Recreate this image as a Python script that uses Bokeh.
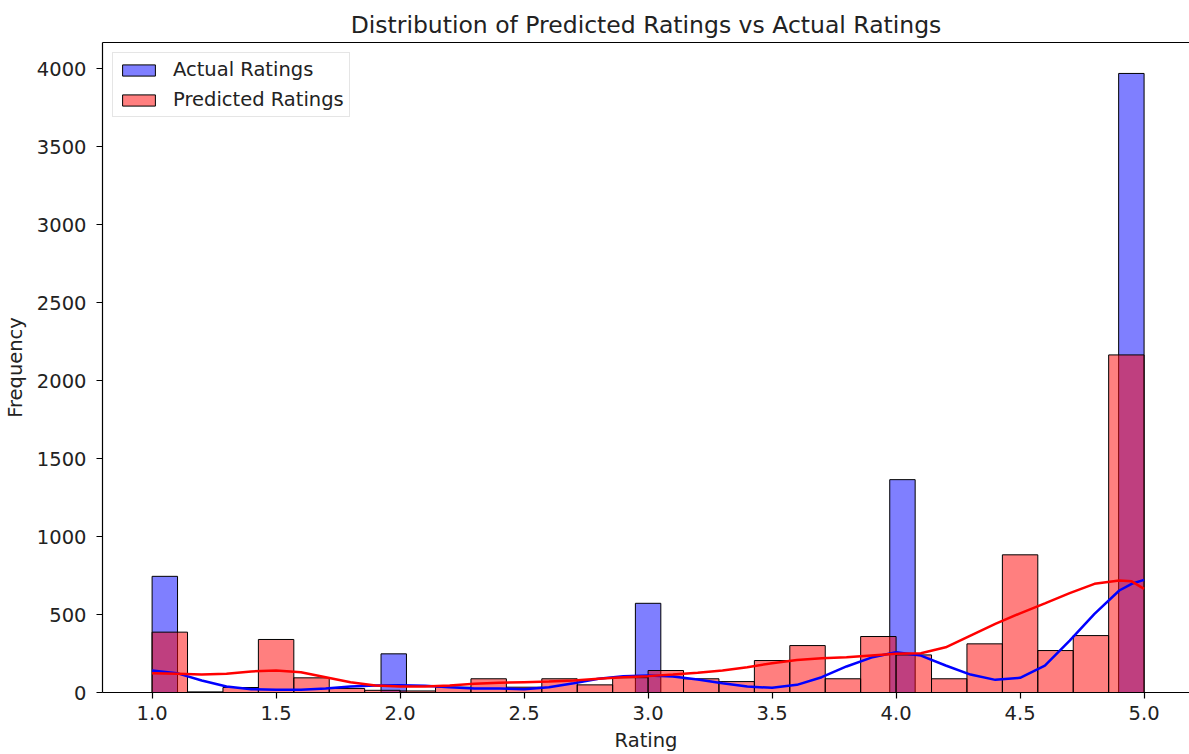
import numpy as np
from bokeh.plotting import figure
from bokeh.models import (ColumnDataSource, LinearAxis, FixedTicker, Legend,
                          LegendItem, Range1d, NumeralTickFormatter)
from bokeh.embed import file_html
from bokeh.resources import INLINE

# ---- data ----
title_text = "Distribution of Predicted Ratings vs Actual Ratings"
x_label = "Rating"
y_label = "Frequency"
series_names = ["Actual Ratings", "Predicted Ratings"]

rating_min = 1.0
rating_max = 5.0

# Actual ratings histogram: 39 equal bins over [1, 5]
actual_counts = [745, 0, 0, 0, 0, 0, 0, 0, 0, 248,
                 0, 0, 0, 0, 0, 0, 0, 0, 0, 572,
                 0, 0, 0, 0, 0, 0, 0, 0, 0, 1365,
                 0, 0, 0, 0, 0, 0, 0, 0, 3970]

# Predicted ratings histogram: 28 equal bins over [1, 5]
predicted_counts = [387, 4, 32, 340, 94, 26, 14, 10, 34, 88,
                    34, 88, 49, 95, 141, 88, 70, 205, 301, 88,
                    359, 241, 88, 312, 883, 269, 365, 2165]

# KDE curves (scaled to counts), read at these ratings
kde_x = [1.0, 1.1, 1.2, 1.3, 1.4, 1.5, 1.6, 1.7, 1.8, 1.9,
         2.0, 2.1, 2.2, 2.3, 2.4, 2.5, 2.6, 2.7, 2.8, 2.9,
         3.0, 3.1, 3.2, 3.3, 3.4, 3.5, 3.6, 3.7, 3.8, 3.9,
         4.0, 4.1, 4.2, 4.3, 4.4, 4.5, 4.6, 4.7, 4.8, 4.9, 4.95, 5.0]
kde_actual = [141, 124, 77, 38, 21, 17, 17, 26, 38, 45,
              47, 43, 34, 26, 26, 21, 34, 60, 88, 105,
              109, 103, 83, 60, 38, 30, 49, 98, 167, 224,
              258, 237, 173, 115, 81, 94, 173, 333, 504, 654, 697, 722]
kde_predicted = [124, 120, 115, 120, 135, 141, 130, 98, 66, 45,
                 38, 38, 45, 56, 62, 66, 70, 77, 88, 98,
                 105, 115, 126, 141, 162, 188, 209, 220, 226, 237,
                 248, 252, 290, 365, 440, 508, 572, 637, 697, 718, 713, 665]

x_ticks = [1.0, 1.5, 2.0, 2.5, 3.0, 3.5, 4.0, 4.5, 5.0]
y_ticks = [0, 500, 1000, 1500, 2000, 2500, 3000, 3500, 4000]

# ---- build ----
def hist_source(counts):
    edges = np.linspace(rating_min, rating_max, len(counts) + 1)
    return ColumnDataSource(dict(left=edges[:-1], right=edges[1:],
                                 top=counts, bottom=[0] * len(counts)))

FONT = "DejaVu Sans"
TXT = "#222222"
FS = "19.5px"

y_top = max(actual_counts) * 1.05
span = rating_max - rating_min
p = figure(width=1189, height=754,
           x_range=Range1d(rating_min - 0.05 * span, 5.1831),
           y_range=Range1d(0, y_top),
           output_backend="svg", toolbar_location=None,
           min_border_left=102, min_border_right=0,
           min_border_top=42, min_border_bottom=62,
           title=title_text)

p.title.text_font = FONT
p.title.text_font_size = "23.5px"
p.title.text_font_style = "normal"
p.title.text_color = TXT
p.title.align = "center"
p.title.standoff = 8

p.outline_line_color = None
p.xgrid.grid_line_color = None
p.ygrid.grid_line_color = None
p.background_fill_color = "white"

for ax in (p.xaxis[0], p.yaxis[0]):
    ax.axis_line_color = "black"
    ax.axis_line_width = 1.2
    ax.major_tick_line_color = "black"
    ax.major_tick_line_width = 1.2
    ax.major_tick_out = 6
    ax.major_tick_in = 0
    ax.minor_tick_line_color = None
    ax.major_label_text_font = FONT
    ax.major_label_text_font_size = FS
    ax.major_label_text_color = TXT
    ax.axis_label_text_font = FONT
    ax.axis_label_text_font_size = FS
    ax.axis_label_text_font_style = "normal"
    ax.axis_label_text_color = TXT

p.xaxis.ticker = FixedTicker(ticks=x_ticks)
p.xaxis.formatter = NumeralTickFormatter(format="0.0")
p.yaxis.ticker = FixedTicker(ticks=y_ticks)
p.xaxis.axis_label = x_label
p.yaxis.axis_label = y_label
p.xaxis.major_label_standoff = 7
p.xaxis.axis_label_standoff = 6
p.yaxis.major_label_standoff = 10
p.yaxis.axis_label_standoff = 7

top_axis = LinearAxis(ticker=FixedTicker(ticks=[]), axis_line_color="black",
                      axis_line_width=1.2, major_tick_line_color=None,
                      minor_tick_line_color=None)
p.add_layout(top_axis, "above")

r_act = p.quad(left="left", right="right", top="top", bottom="bottom",
               source=hist_source(actual_counts),
               fill_color="blue", fill_alpha=0.5,
               line_color="black", line_width=1)
r_pred = p.quad(left="left", right="right", top="top", bottom="bottom",
                source=hist_source(predicted_counts),
                fill_color="red", fill_alpha=0.5,
                line_color="black", line_width=1)

p.line(kde_x, kde_actual, line_color="blue", line_width=2.5)
p.line(kde_x, kde_predicted, line_color="red", line_width=2.5)

legend = Legend(items=[LegendItem(label=series_names[0], renderers=[r_act]),
                       LegendItem(label=series_names[1], renderers=[r_pred])],
                location="top_left")
legend.label_text_font = FONT
legend.label_text_font_size = FS
legend.label_text_color = TXT
legend.glyph_width = 41
legend.glyph_height = 14
legend.label_standoff = 14
legend.label_height = 22
legend.spacing = 7
legend.padding = 5
legend.margin = 10
legend.border_line_color = "#cccccc"
legend.border_line_width = 1
legend.background_fill_alpha = 0.8
p.add_layout(legend)

open("out.html", "w").write(file_html(p, INLINE))
